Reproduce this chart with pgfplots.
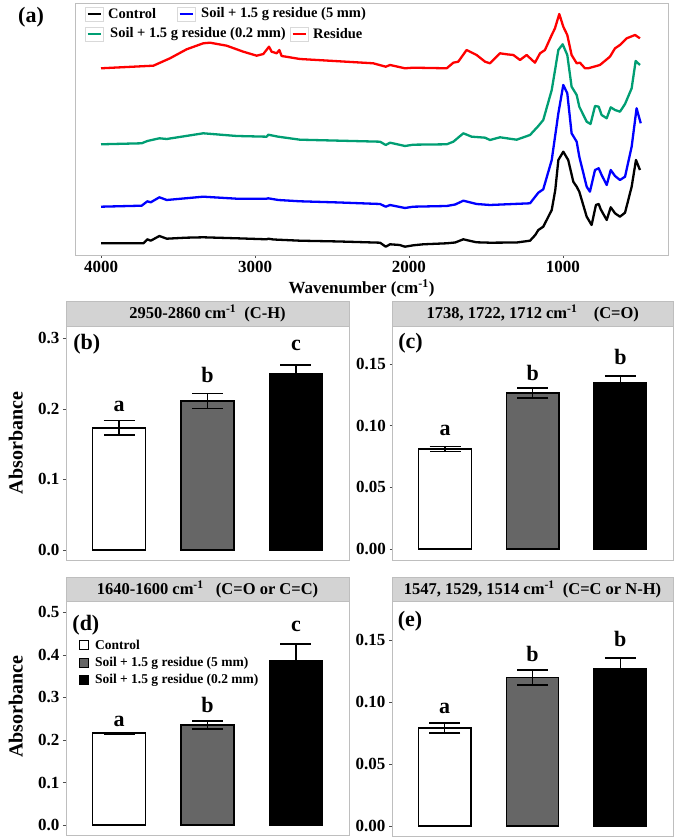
\documentclass[border=0pt]{standalone}
\usepackage{fontspec}
\setmainfont{Liberation Serif}
\usepackage{pgfplots}
\pgfplotsset{compat=1.18}

\definecolor{ftgreen}{RGB}{0,158,115}
\definecolor{framegray}{RGB}{190,190,190}
\definecolor{stripgray}{RGB}{211,211,211}
\definecolor{bargray}{RGB}{102,102,102}

\newcommand{\tickfont}{\bfseries\fontsize{17}{19}\selectfont}
\newcommand{\stripfont}{\bfseries\fontsize{16.5}{18}\selectfont}
\newcommand{\letterfont}{\bfseries\fontsize{22}{24}\selectfont}

\pgfplotsset{
  panel/.style={scale only axis, clip=false,
    axis line style={framegray, line width=0.8pt},
    tick style={black!70, line width=0.6pt}, major tick length=3pt, tick align=outside,
    /pgf/number format/assume math mode=true,
    ticklabel style={font=\tickfont}},
  barpanel/.style={panel, width=283pt, height=234pt, xmin=0.4, xmax=3.6,
    xtick=\empty, ytick pos=left,
    ylabel style={font=\bfseries\fontsize{20}{22}\selectfont, at={(axis description cs:-0.177,0.5)}, anchor=center}},
  mybar/.style={ybar, bar width=0.6, bar shift=0pt, draw=black, line width=1.3pt,
    error bars/y dir=both, error bars/y explicit,
    error bars/error bar style={line width=1.3pt, black},
    error bars/error mark options={rotate=90, line width=1.3pt, black, mark size=15.5pt}},
}

\begin{document}
\begin{tikzpicture}
\useasboundingbox (0,0) rectangle (675pt,838pt);

% ---------- (a) spectra
\begin{axis}[panel, at={(75pt,583pt)}, anchor=south west, width=593pt, height=252pt,
  x dir=reverse, xmin=318, xmax=4169, ymin=0, ymax=252, ytick=\empty,
  xtick={1000,2000,3000,4000}, xticklabels={1000,2000,3000,4000}, xtick pos=left,
  xlabel={Wavenumber (cm\textsuperscript{-1})},
  xlabel style={font=\bfseries\fontsize{17}{19}\selectfont, xshift=-10pt},
  every axis plot/.append style={line width=2.3pt, line join=round}]
\addplot[black] coordinates {(4000,11.7) (3725,11.7) (3699,15.7) (3677,14.3) (3621,19.0) (3573,16.3) (3450,17.3) (3336,17.7) (3119,16.7) (2924,15.7) (2914,16.3) (2880,15.5) (2708,14.3) (2450,13.5) (2188,12.3) (2151,8.3) (2123,10.7) (2060,10.0) (2026,8.3) (1972,9.7) (1907,10.7) (1755,11.7) (1700,12.5) (1647,15.7) (1600,14.0) (1561,12.7) (1474,12.3) (1300,12.5) (1214,14.3) (1180,20) (1160,25.0) (1128,28.3) (1073,45.0) (1050,65) (1030,95.0) (998,103.3) (966,95.0) (933,73.3) (911,68.3) (894,63.3) (846,38.3) (814,30.0) (786,50.0) (768,51.0) (755,45.7) (716,35.0) (690,47.7) (662,41.7) (630,38.3) (597,42.3) (554,68.3) (526,95.0) (500,85.0)};
\addplot[blue] coordinates {(4000,48.3) (3736,49.3) (3699,53.7) (3677,52.7) (3621,57.7) (3573,55.0) (3336,58.3) (3119,56.3) (2924,56.3) (2914,56.7) (2849,55.0) (2708,53.7) (2450,52.5) (2188,51.0) (2151,48.3) (2123,50.0) (2026,47.0) (1972,48.3) (1755,49.0) (1700,50.5) (1647,54.3) (1561,51.0) (1474,50.0) (1214,51.7) (1160,62.3) (1128,65.7) (1073,95.0) (1030,141.7) (998,170.0) (972,161.7) (944,121.7) (911,113.3) (894,98.3) (846,68.3) (825,63.3) (792,85.0) (768,86.7) (749,80.0) (716,70.0) (690,85.0) (662,79.0) (630,75.0) (597,78.3) (554,108.3) (522,146.7) (495,131.7)};
\addplot[ftgreen] coordinates {(4000,110.7) (3736,111.7) (3699,114.0) (3621,116.7) (3573,116.0) (3336,121.7) (3119,119.0) (2924,118.3) (2914,120.3) (2849,118.3) (2708,115.3) (2188,113.3) (2151,110.0) (2123,112.3) (2026,109.0) (1972,110.3) (1755,110.7) (1712,113.3) (1647,121.7) (1593,118.3) (1539,117.7) (1506,117.3) (1474,115.0) (1409,117.7) (1301,115.3) (1214,120.0) (1160,129.0) (1128,135.0) (1073,165.0) (1030,205.0) (1002,210.7) (972,200.0) (944,168.3) (911,160.0) (894,148.3) (846,133.3) (821,131.0) (792,149.0) (768,148.3) (749,140.0) (716,136.7) (690,147.7) (662,145.0) (630,143.3) (597,151.0) (554,166.7) (528,194.0) (500,190.0)};
\addplot[red] coordinates {(4000,186.7) (3660,189.3) (3552,196.7) (3444,205.7) (3336,211.7) (3292,212.3) (3184,209.3) (3076,203.3) (2989,199.3) (2946,201.0) (2909,208.3) (2892,203.3) (2859,201.7) (2842,205.0) (2827,199.0) (2708,196.0) (2232,191.7) (2151,188.3) (2123,190.0) (2026,186.7) (1972,187.3) (1755,186.7) (1712,192.3) (1680,193.3) (1626,205.0) (1561,200.0) (1506,193.3) (1474,191.7) (1409,201.7) (1366,200.7) (1322,200.0) (1279,195.0) (1236,200.0) (1182,192.3) (1149,201.7) (1117,205.0) (1073,220.0) (1052,226.7) (1024,241.0) (998,228.3) (972,220.0) (944,200.0) (911,191.7) (890,192.3) (857,186.7) (836,186.7) (760,190.0) (695,198.3) (662,206.7) (630,210.0) (586,216.7) (532,220.0) (500,216.7)};
\end{axis}

% legend of (a) and panel tag
\begin{scope}[font=\bfseries\fontsize{14.5}{16}\selectfont]
\node[anchor=west, inner sep=0, font=\letterfont] at (18pt,821pt) {(a)};
\draw[black!15, line width=0.6pt] (85pt,817pt) rectangle (103pt,831pt);
\draw[black, line width=2.3pt] (87.5pt,824pt) -- (100.5pt,824pt);
\node[anchor=west, inner sep=0] at (108pt,824pt) {Control};
\draw[black!15, line width=0.6pt] (177pt,817pt) rectangle (195pt,831pt);
\draw[blue, line width=2.3pt] (179.5pt,824pt) -- (192.5pt,824pt);
\node[anchor=west, inner sep=0] at (201pt,824pt) {Soil + 1.5 g residue (5 mm)};
\draw[black!15, line width=0.6pt] (85pt,797pt) rectangle (103pt,811pt);
\draw[ftgreen, line width=2.3pt] (87.5pt,804pt) -- (100.5pt,804pt);
\node[anchor=west, inner sep=0] at (110pt,804pt) {Soil + 1.5 g residue (0.2 mm)};
\draw[black!15, line width=0.6pt] (290pt,797pt) rectangle (308pt,811pt);
\draw[red, line width=2.3pt] (292.5pt,804pt) -- (305.5pt,804pt);
\node[anchor=west, inner sep=0] at (313pt,804pt) {Residue};
\end{scope}

% ---------- (b)
\begin{axis}[barpanel, at={(66pt,278pt)}, anchor=south west,
  ymin=-0.0142, ymax=0.3174, ytick={0,0.1,0.2,0.3}, yticklabels={0.0,0.1,0.2,0.3},
  ylabel={Absorbance}]
\addplot[mybar, fill=white] coordinates {(1,0.173) +- (0,0.010)};
\addplot[mybar, fill=bargray] coordinates {(2,0.211) +- (0,0.011)};
\addplot[mybar, fill=black] coordinates {(3,0.250) +- (0,0.012)};
\node[font=\letterfont] at (axis cs:1,0.204) {a};
\node[font=\letterfont] at (axis cs:2,0.248) {b};
\node[font=\letterfont] at (axis cs:3,0.290) {c};
\node[font=\letterfont, anchor=west, inner sep=0] at (axis description cs:0.025,0.923) {(b)};
\draw[framegray, fill=stripgray, line width=0.8pt] (rel axis cs:0,1) rectangle ([yshift=24.5pt]rel axis cs:1,1);
\node[font=\stripfont] at ([yshift=12.25pt]rel axis cs:0.5,1) {2950-2860 cm\textsuperscript{-1}\ \ (C-H)};
\end{axis}

% ---------- (c)
\begin{axis}[barpanel, at={(392.5pt,278pt)}, anchor=south west, width=280.5pt,
  ymin=-0.0089, ymax=0.1808, ytick={0,0.05,0.1,0.15}, yticklabels={0.00,0.05,0.10,0.15}]
\addplot[mybar, fill=white] coordinates {(1,0.081) +- (0,0.002)};
\addplot[mybar, fill=bargray] coordinates {(2,0.1265) +- (0,0.004)};
\addplot[mybar, fill=black] coordinates {(3,0.1345) +- (0,0.0057)};
\node[font=\letterfont] at (axis cs:1,0.0965) {a};
\node[font=\letterfont] at (axis cs:2,0.1425) {b};
\node[font=\letterfont] at (axis cs:3,0.156) {b};
\node[font=\letterfont, anchor=west, inner sep=0] at (axis description cs:0.02,0.927) {(c)};
\draw[framegray, fill=stripgray, line width=0.8pt] (rel axis cs:0,1) rectangle ([yshift=24.5pt]rel axis cs:1,1);
\node[font=\stripfont] at ([yshift=12.25pt]rel axis cs:0.5,1) {1738, 1722, 1712 cm\textsuperscript{-1}\ \ \ \ (C=O)};
\end{axis}

% ---------- (d)
\begin{axis}[barpanel, at={(66pt,3pt)}, anchor=south west, height=233.3pt,
  ymin=-0.0235, ymax=0.525, ytick={0,0.1,0.2,0.3,0.4,0.5}, yticklabels={0.0,0.1,0.2,0.3,0.4,0.5},
  ylabel={Absorbance},
  ylabel style={at={(axis description cs:-0.177,0.55)}},
  legend style={at={(axis description cs:0.035,0.855)}, anchor=north west, draw=none, fill=none,
    font=\bfseries\fontsize{13.5}{15}\selectfont, row sep=2.5pt, column sep=4pt, cells={anchor=west}},
  legend image code/.code={\draw[#1,/tikz/.cd,line width=0.9pt] (0pt,-4.5pt) rectangle (9pt,4.5pt);}]
\addplot[mybar, fill=white] coordinates {(1,0.216) +- (0,0.002)};
\addlegendentry{Control}
\addplot[mybar, fill=bargray] coordinates {(2,0.235) +- (0,0.0095)};
\addlegendentry{Soil + 1.5 g residue (5 mm)}
\addplot[mybar, fill=black] coordinates {(3,0.3855) +- (0,0.040)};
\addlegendentry{Soil + 1.5 g residue (0.2 mm)}
\node[font=\letterfont] at (axis cs:1,0.243) {a};
\node[font=\letterfont] at (axis cs:2,0.282) {b};
\node[font=\letterfont] at (axis cs:3,0.466) {c};
\node[font=\letterfont, anchor=west, inner sep=0] at (axis description cs:0.022,0.90) {(d)};
\draw[framegray, fill=stripgray, line width=0.8pt] (rel axis cs:0,1) rectangle ([yshift=24.5pt]rel axis cs:1,1);
\node[font=\stripfont] at ([yshift=12.25pt]rel axis cs:0.5,1) {1640-1600 cm\textsuperscript{-1}\ \ \ (C=O or C=C)};
\end{axis}

% ---------- (e)
\begin{axis}[barpanel, at={(392pt,2pt)}, anchor=south west, width=281pt, height=234.3pt,
  ymin=-0.0081, ymax=0.1809, ytick={0,0.05,0.1,0.15}, yticklabels={0.00,0.05,0.10,0.15}]
\addplot[mybar, fill=white] coordinates {(1,0.079) +- (0,0.004)};
\addplot[mybar, fill=bargray] coordinates {(2,0.1198) +- (0,0.006)};
\addplot[mybar, fill=black] coordinates {(3,0.1266) +- (0,0.009)};
\node[font=\letterfont] at (axis cs:1,0.095) {a};
\node[font=\letterfont] at (axis cs:2,0.139) {b};
\node[font=\letterfont] at (axis cs:3,0.151) {b};
\node[font=\letterfont, anchor=west, inner sep=0] at (axis description cs:0.02,0.918) {(e)};
\draw[framegray, fill=stripgray, line width=0.8pt] (rel axis cs:0,1) rectangle ([yshift=24.5pt]rel axis cs:1,1);
\node[font=\stripfont] at ([yshift=12.25pt]rel axis cs:0.5,1) {1547, 1529, 1514 cm\textsuperscript{-1}\ \ (C=C or N-H)};
\end{axis}
\end{tikzpicture}
\end{document}
